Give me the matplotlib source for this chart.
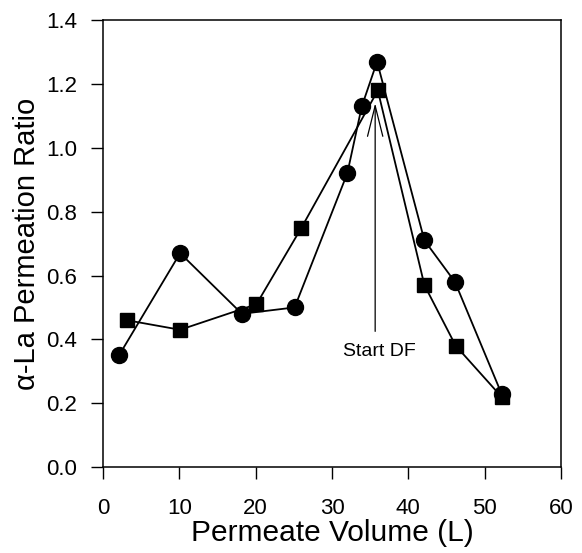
import numpy as np
import matplotlib
matplotlib.use('Agg')
from matplotlib import pyplot as plt

# circles
vol_circ = [2.1, 10.1, 18.2, 25.1, 32.0, 33.9, 35.9, 42.1, 46.1, 52.2]
ratio_circ = [0.35, 0.67, 0.48, 0.50, 0.92, 1.13, 1.27, 0.71, 0.58, 0.23]
# squares
vol_sq = [3.1, 10.1, 20.1, 26.0, 36.0, 42.1, 46.2, 52.2]
ratio_sq = [0.46, 0.43, 0.51, 0.75, 1.18, 0.57, 0.38, 0.22]

x_ticks = [0, 10, 20, 30, 40, 50, 60]
y_ticks = [0.0, 0.2, 0.4, 0.6, 0.8, 1.0, 1.2, 1.4]

plt.rcParams['font.family'] = ['Liberation Sans', 'DejaVu Sans']

fig = plt.figure(figsize=(5.82, 5.53), dpi=100)
ax = fig.add_axes([0.177, 0.1555, 0.787, 0.808])

ax.plot(vol_circ, ratio_circ, color='black', lw=1.3, marker='o', ms=11.5, zorder=3)
ax.plot(vol_sq, ratio_sq, color='black', lw=1.3, marker='s', ms=10.5, zorder=3)

# Start DF arrow and label
ax.annotate('', xy=(35.65, 1.14), xytext=(35.65, 0.425),
            arrowprops=dict(arrowstyle='->, head_length=2.2, head_width=0.55',
                            lw=0.9, color='black', shrinkA=0, shrinkB=0,
                            mutation_scale=10))
ax.text(36.2, 0.363, 'Start DF', ha='center', va='center', fontsize=14)

ax.set_xlim(0, 60)
ax.set_ylim(0, 1.4)
ax.set_xticks(x_ticks)
ax.set_yticks(y_ticks)
ax.set_yticklabels(['%.1f' % v for v in y_ticks])
ax.tick_params(direction='out', length=8.6, width=1.0, labelsize=16, top=False, right=False)
ax.tick_params(axis='x', pad=14)
ax.tick_params(axis='y', pad=10)
for s in ax.spines.values():
    s.set_linewidth(1.1)

ax.set_xlabel('Permeate Volume (L)', fontsize=21.5, labelpad=0)
ax.set_ylabel('α-La Permeation Ratio', fontsize=21, labelpad=4)

plt.savefig('out.png', dpi=100)
